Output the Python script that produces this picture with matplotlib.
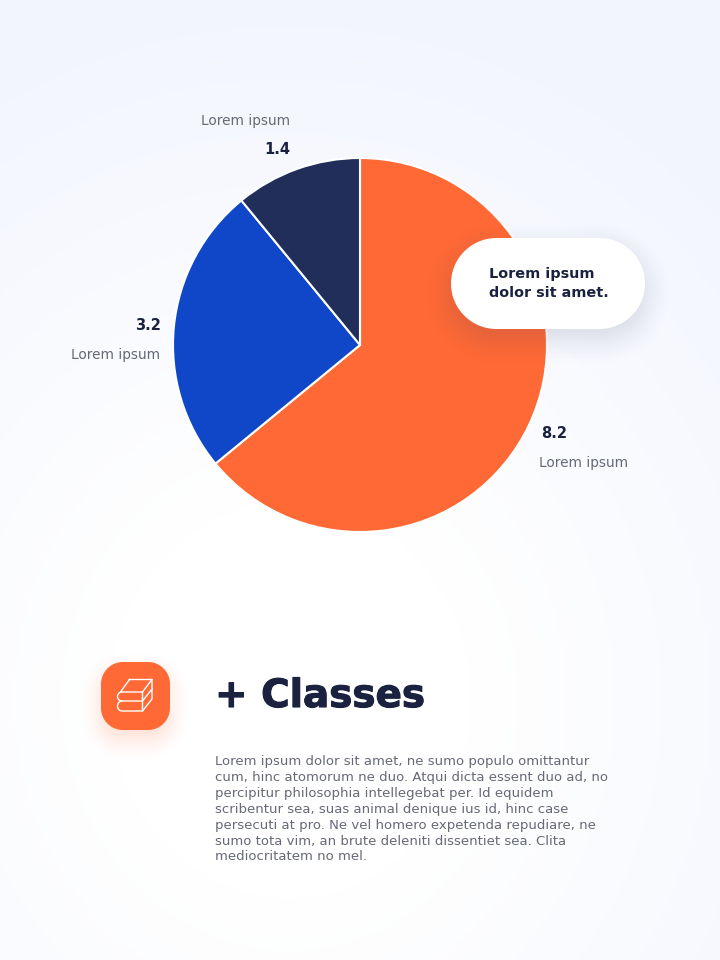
#!/usr/bin/env python3
import numpy as np
import matplotlib
matplotlib.use('Agg')
import matplotlib.pyplot as plt
import matplotlib.patheffects as pe
from matplotlib.colors import to_rgb
from matplotlib.patches import Polygon

# chart data
labels = ['Lorem ipsum', 'Lorem ipsum', 'Lorem ipsum']
values = [8.2, 3.2, 1.4]
colors = ['#FF6935', '#0F47C8', '#222E5A']

callout_lines = ['Lorem ipsum', 'dolor sit amet.']
title = '+ Classes'
body_lines = [
    'Lorem ipsum dolor sit amet, ne sumo populo omittantur',
    'cum, hinc atomorum ne duo. Atqui dicta essent duo ad, no',
    'percipitur philosophia intellegebat per. Id equidem',
    'scribentur sea, suas animal denique ius id, hinc case',
    'persecuti at pro. Ne vel homero expetenda repudiare, ne',
    'sumo tota vim, an brute deleniti dissentiet sea. Clita',
    'mediocritatem no mel.',
]

navy = '#1A2240'
grey = '#666976'
plt.rcParams['font.family'] = ['DejaVu Sans']

fig = plt.figure(figsize=(7.2, 9.6), dpi=100)


def pixel_axes(z):
    a = fig.add_axes([0, 0, 1, 1], zorder=z)
    a.set_xlim(0, 720)
    a.set_ylim(960, 0)
    a.axis('off')
    a.patch.set_alpha(0)
    return a


# background gradient
bg = pixel_axes(0)
xx, yy = np.meshgrid(np.arange(720) + 0.5, np.arange(960) + 0.5)
dist = np.sqrt(((xx - 290) / 600) ** 2 + ((yy - 700) / 660) ** 2)
t = np.clip((dist - 0.3) / 0.8, 0, 1)[..., None]
white = np.array([1.0, 1.0, 1.0])
edge = np.array([0xF2, 0xF5, 0xFE]) / 255
bg.imshow(white * (1 - t) + edge * t, extent=(0, 720, 960, 0), aspect='auto')
bg.set_xlim(0, 720)
bg.set_ylim(960, 0)

# pie on its own axes so the direction is not flipped
cx, cy, r = 360, 345, 187
pad = 3
pie_ax = fig.add_axes([(cx - r - pad) / 720, 1 - (cy + r + pad) / 960,
                       (2 * r + 2 * pad) / 720, (2 * r + 2 * pad) / 960], zorder=1)
pie_ax.pie(values, colors=colors, startangle=90, counterclock=False, radius=1,
           wedgeprops={'edgecolor': 'white', 'linewidth': 1.5})
pie_ax.set_xlim(-(r + pad) / r, (r + pad) / r)
pie_ax.set_ylim(-(r + pad) / r, (r + pad) / r)
pie_ax.patch.set_alpha(0)

ax = pixel_axes(2)


def rounded_sdf(x, y, w, h, rad):
    # signed distance to a rounded box, on the full pixel grid
    qx = np.abs(xx - (x + w / 2)) - (w / 2 - rad)
    qy = np.abs(yy - (y + h / 2)) - (h / 2 - rad)
    outside = np.hypot(np.maximum(qx, 0), np.maximum(qy, 0))
    inside = np.minimum(np.maximum(qx, qy), 0)
    return outside + inside - rad


def soft_shadow(x, y, w, h, rad, blur, alpha, color, z):
    sd = rounded_sdf(x, y, w, h, rad)
    s = np.clip(0.5 - sd / (2 * blur), 0, 1)
    s = s * s * (3 - 2 * s)
    rgba = np.zeros(sd.shape + (4,))
    rgba[..., :3] = to_rgb(color)
    rgba[..., 3] = s * alpha
    ax.imshow(rgba, extent=(0, 720, 960, 0), aspect='auto', zorder=z)
    ax.set_xlim(0, 720)
    ax.set_ylim(960, 0)


def rounded_box(x, y, w, h, rad, color, z):
    a = np.linspace(0, np.pi / 2, 40)
    arc = np.column_stack([np.cos(a), np.sin(a)]) * rad
    pts = np.vstack([
        arc + [x + w - rad, y + h - rad],
        arc[:, ::-1] * [-1, 1] + [x + rad, y + h - rad],
        arc * [-1, -1] + [x + rad, y + rad],
        arc[:, ::-1] * [1, -1] + [x + w - rad, y + rad],
    ])
    ax.add_patch(Polygon(pts, closed=True, fc=color, ec='none', zorder=z))


# value and category labels
val_kw = {'ha': 'right', 'va': 'center', 'fontsize': 10.5, 'fontweight': 'bold', 'color': navy}
lab_kw = {'ha': 'right', 'va': 'center', 'fontsize': 9.8, 'color': grey}
ax.text(567, 434, f'{values[0]}', **val_kw)
ax.text(628, 463, labels[0], **lab_kw)
ax.text(161, 325, f'{values[1]}', **val_kw)
ax.text(160, 355, labels[1], **lab_kw)
ax.text(290, 150, f'{values[2]}', **val_kw)
ax.text(290, 121, labels[2], **lab_kw)

# callout pill
soft_shadow(451, 248, 194, 91, 45.5, 30, 0.17, '#2A3560', 3)
rounded_box(451, 238, 194, 91, 45.5, 'white', 4)
ax.text(489, 274, callout_lines[0], va='center', fontsize=10.4, fontweight='bold', color=navy, zorder=5)
ax.text(489, 293, callout_lines[1], va='center', fontsize=10.4, fontweight='bold', color=navy, zorder=5)

# icon tile
soft_shadow(101, 672, 69, 68, 22, 22, 0.22, '#FF6935', 3)
rounded_box(101, 662, 69, 68, 22, '#FF6935', 4)


def left_cap(y0, y1):
    # rounded spine on the left of a book
    a = np.linspace(-np.pi / 2, np.pi / 2, 16)
    mid, half = (y0 + y1) / 2, (y1 - y0) / 2
    return np.column_stack([122 - 4.5 * np.cos(a), mid + half * np.sin(a)])


# book stack outline
book_lines = [
    np.array([(129.5, 679.5), (152, 679.5), (142.5, 692), (120.5, 692), (129.5, 679.5)]),
    np.vstack([left_cap(692, 701), [(142.5, 701), (142.5, 692)]]),
    np.vstack([left_cap(701, 711), [(142.5, 711), (142.5, 701), (152, 689), (152, 679.5)]]),
    np.array([(142.5, 711), (152, 699), (152, 689)]),
]
for arr in book_lines:
    ax.plot(arr[:, 0], arr[:, 1], color='white', lw=1.0, zorder=5, solid_joinstyle='round')

# heading and paragraph
ax.text(215, 696, title, va='center', fontsize=28, fontweight='bold', color=navy,
        path_effects=[pe.withStroke(linewidth=0.8, foreground=navy)])
for i, line in enumerate(body_lines):
    ax.text(215, 761 + i * 16, line, va='center', fontsize=9.55, color=grey)

fig.savefig('out.png', dpi=100)
